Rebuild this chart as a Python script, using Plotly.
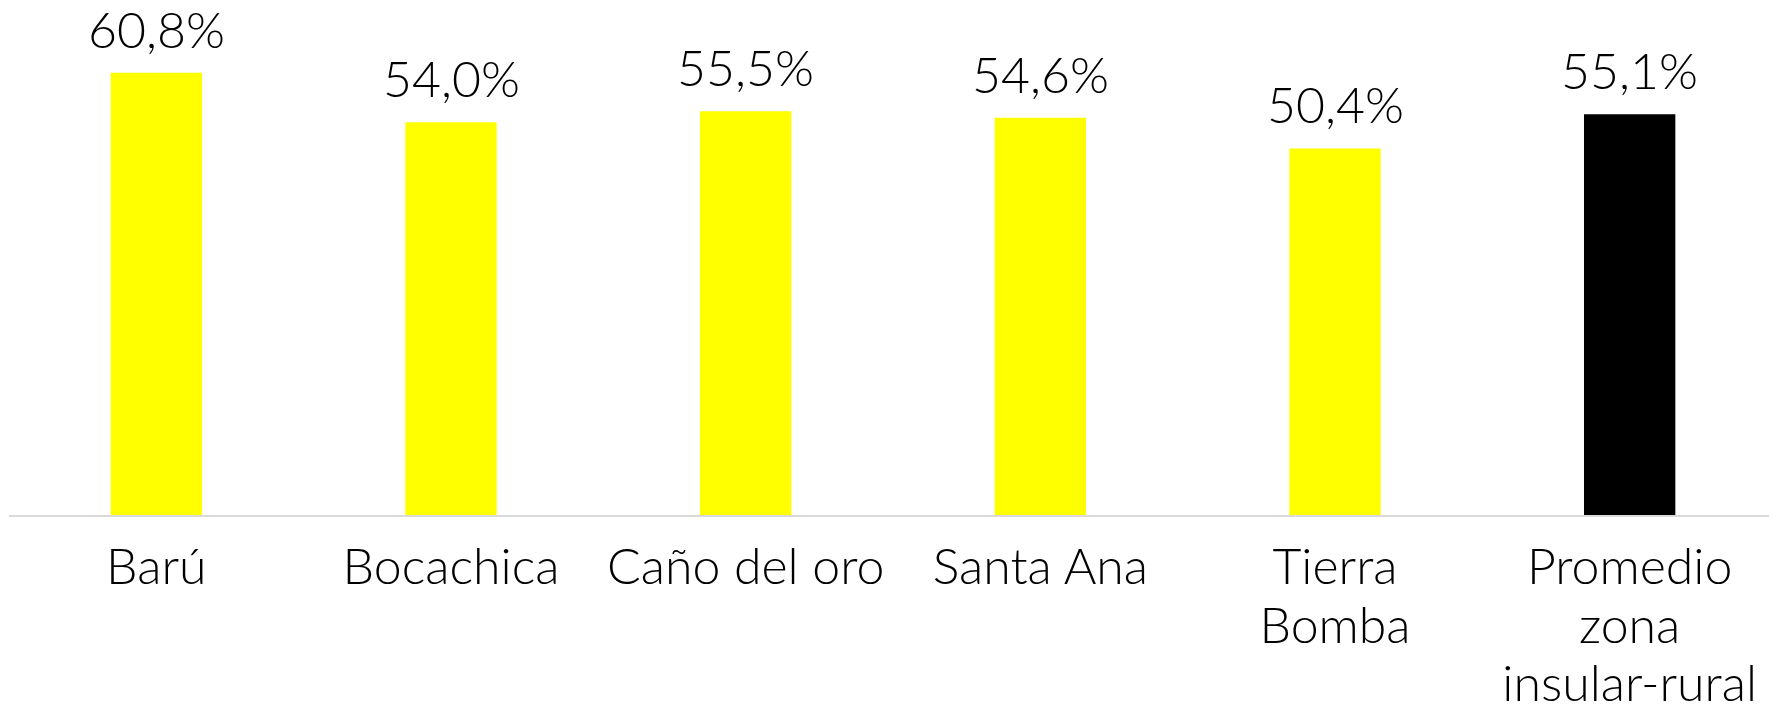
import plotly.graph_objects as go

categories = ['Barú', 'Bocachica', 'Caño del oro', 'Santa Ana',
              'Tierra Bomba', 'Promedio zona insular-rural']
tick_lines = [['Barú'], ['Bocachica'], ['Caño del oro'], ['Santa Ana'],
              ['Tierra', 'Bomba'], ['Promedio', 'zona', 'insular-rural']]
values = [60.8, 54.0, 55.5, 54.6, 50.4, 55.1]
labels = ['60,8%', '54,0%', '55,5%', '54,6%', '50,4%', '55,1%']
colors = ['#FFFF00'] * 5 + ['#000000']

# tick text: big glyphs on a smaller base font so the line spacing is tighter
tick_text = ['<br>'.join("<span style='font-size:50px'>{}</span>".format(l) for l in lines)
             for lines in tick_lines]

fig = go.Figure()
fig.add_trace(go.Bar(x=categories, y=values,
                     marker=dict(color=colors, line=dict(width=0)),
                     hoverinfo='skip'))

for cat, val, lab in zip(categories, values, labels):
    fig.add_annotation(x=cat, y=val, text=lab, showarrow=False,
                       yanchor='bottom', yshift=12,
                       font=dict(family='Lato', size=50, color='black', weight=300))

# page body has an 8px margin, so the figure is sized to fill the rest
fig.update_layout(
    width=1769, height=697,
    margin=dict(l=1, r=0, t=0, b=190),
    plot_bgcolor='white',
    paper_bgcolor='white',
    bargap=0.69,
    showlegend=False,
    font=dict(family='Lato', size=45, color='black', weight=300),
    xaxis=dict(
        automargin=False,
        showline=True,
        linecolor='#d9d9d9',
        linewidth=2,
        showgrid=False,
        ticks='outside',
        ticklen=13,
        tickcolor='rgba(0,0,0,0)',
        tickvals=categories,
        ticktext=tick_text,
        tickfont=dict(family='Lato', size=45, color='black', weight=300),
    ),
    yaxis=dict(
        automargin=False,
        range=[0, 69.7],
        visible=False,
        showgrid=False,
        zeroline=False,
    ),
)

fig.write_html("out.html")
